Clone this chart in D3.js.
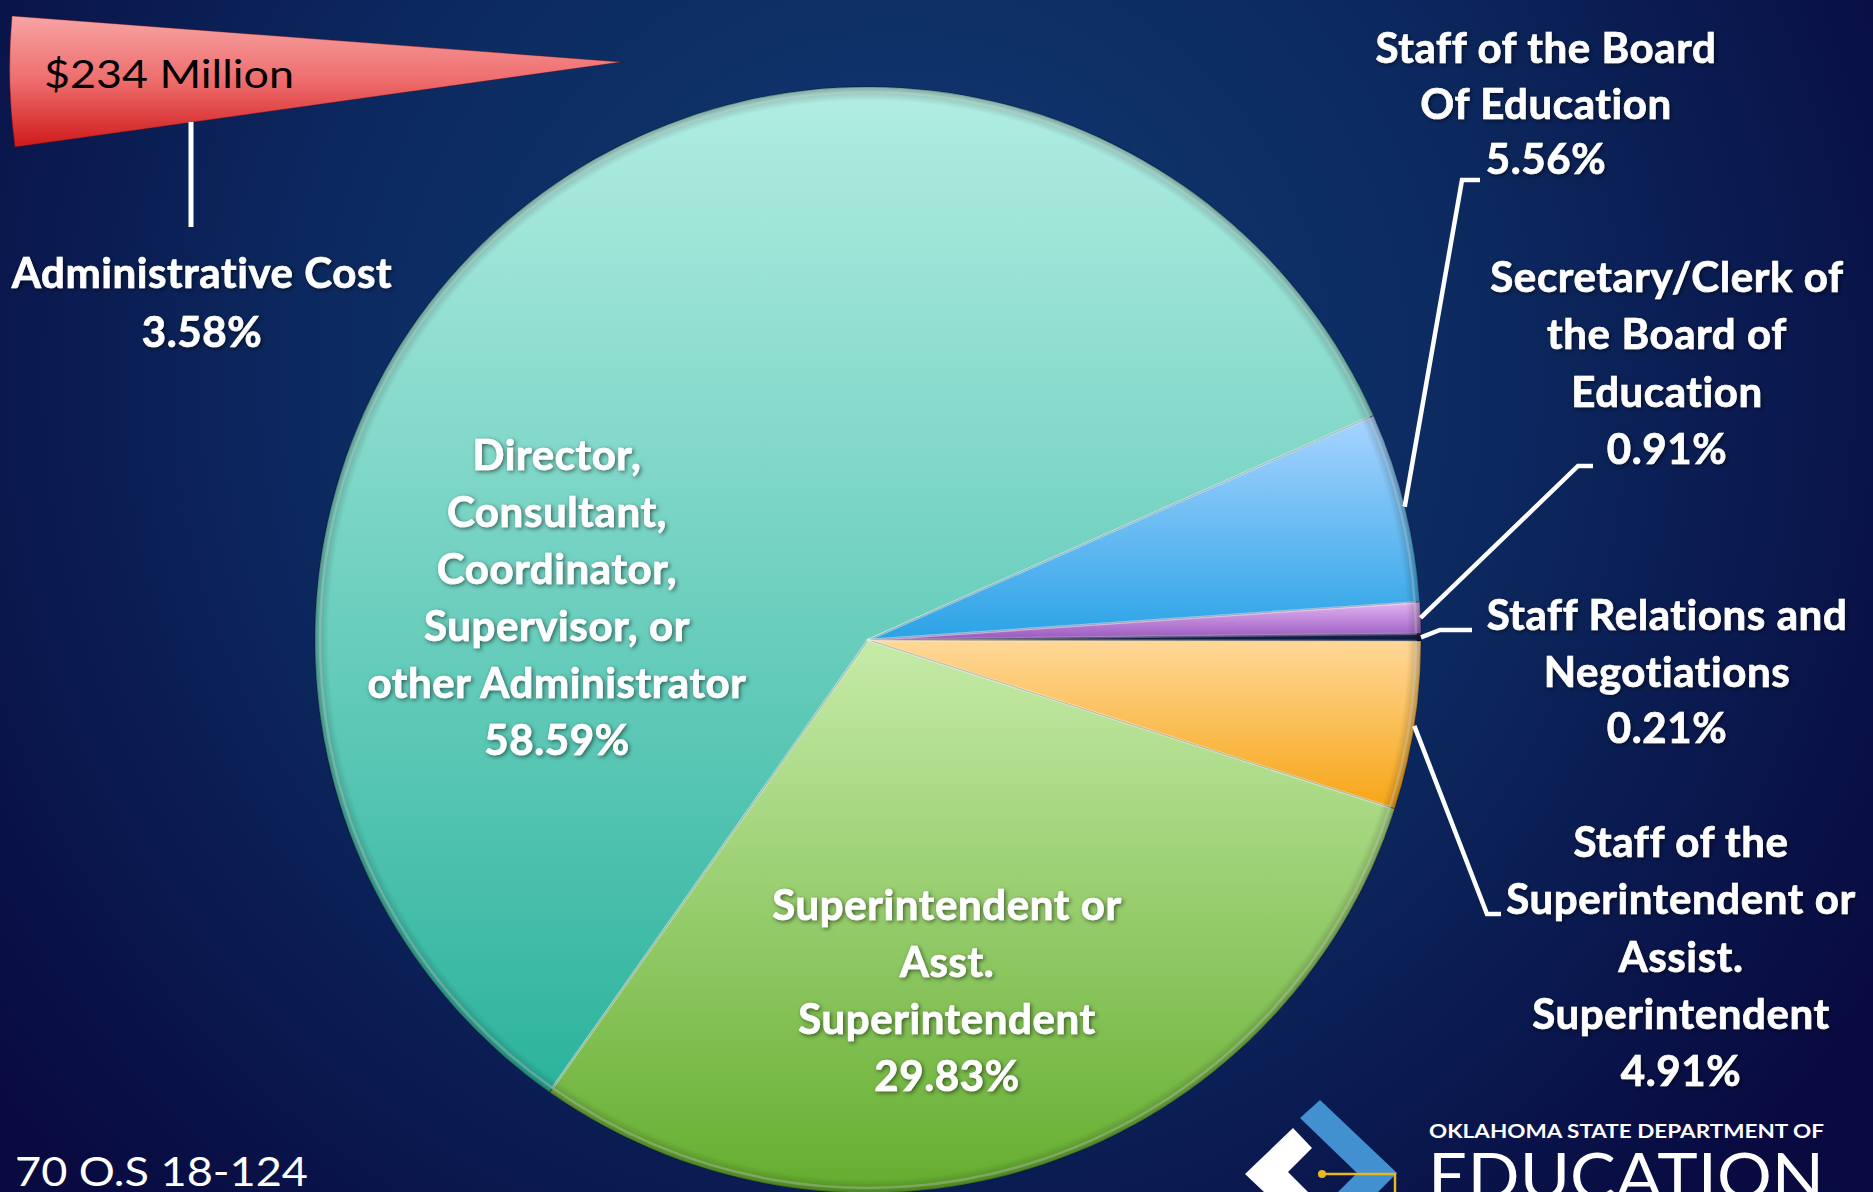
<!DOCTYPE html>
<html>
<head>
<meta charset="utf-8">
<script src="https://cdn.jsdelivr.net/npm/d3@7"></script>
<style>
  html, body { margin: 0; padding: 0; overflow: hidden; background: #0b1e54; }
  text { font-family: Lato, "Noto Sans", sans-serif; }
</style>
</head>
<body>
<svg id="chart"></svg>
<script>
// slices, clockwise from the blue one
const categories = [
  "Staff of the Board Of Education",
  "Secretary/Clerk of the Board of Education",
  "Staff Relations and Negotiations",
  "Staff of the Superintendent or Assist. Superintendent",
  "Superintendent or Asst. Superintendent",
  "Director, Consultant, Coordinator, Supervisor, or other Administrator"
];
const shares = [5.56, 0.91, 0.21, 4.91, 29.83, 58.59];
const labelLines = [
  ["Staff of the Board", "Of Education"],
  ["Secretary/Clerk of", "the Board of", "Education"],
  ["Staff Relations and", "Negotiations"],
  ["Staff of the", "Superintendent or", "Assist.", "Superintendent"],
  ["Superintendent or", "Asst.", "Superintendent"],
  ["Director,", "Consultant,", "Coordinator,", "Supervisor, or", "other Administrator"]
];
const sliceColors = [
  ["#a9d4ff", "#2aa3e6"],
  ["#e4b4f4", "#9656bc"],
  ["#16244f", "#0c1840"],
  ["#ffd898", "#f7a516"],
  ["#c6eba8", "#64ad2e"],
  ["#b2ede2", "#2cb39d"]
];
const totalCost = "$234 Million";
const adminLabel = "Administrative Cost";
const adminShare = 3.58;
const footnote = "70 O.S 18-124";

const W = 1873, H = 1192;
const cx = 868, cy = 640, R = 553;
const fmt = d => d3.format(".2f")(d) + "%";

// where each label sits (first baseline) and the elbow of its leader line
const labelLayout = [
  { x: 1546, y: 63, gap: 55.5, leader: [[1462, 180], [1480, 180]] },
  { x: 1667, y: 292, gap: 57.3, leader: [[1578, 466], [1593, 466]] },
  { x: 1667, y: 630, gap: 56.7, leader: [[1440, 630], [1472, 630]] },
  { x: 1681, y: 857, gap: 57.3, leader: [[1487, 914], [1501, 914]] },
  { x: 947, y: 920, gap: 57 },
  { x: 557, y: 470, gap: 57 }
];

const svg = d3.select("#chart").attr("width", W).attr("height", H);
const defs = svg.append("defs");

const bg = defs.append("radialGradient").attr("id", "bg")
  .attr("gradientUnits", "userSpaceOnUse")
  .attr("cx", 900).attr("cy", 380).attr("r", 1150);
bg.append("stop").attr("offset", 0).attr("stop-color", "#0f3a72");
bg.append("stop").attr("offset", 0.5).attr("stop-color", "#0c2a60");
bg.append("stop").attr("offset", 1).attr("stop-color", "#080a40");

sliceColors.forEach(function(c, i) {
  const g = defs.append("linearGradient").attr("id", "slice" + i)
    .attr("x1", 0).attr("y1", 0).attr("x2", 0).attr("y2", 1);
  g.append("stop").attr("offset", 0).attr("stop-color", c[0]);
  g.append("stop").attr("offset", 1).attr("stop-color", c[1]);
});

const rim = defs.append("radialGradient").attr("id", "rim")
  .attr("gradientUnits", "userSpaceOnUse")
  .attr("cx", 0).attr("cy", 0).attr("r", R);
rim.append("stop").attr("offset", 0.975).attr("stop-color", "#000").attr("stop-opacity", 0);
rim.append("stop").attr("offset", 1).attr("stop-color", "#000").attr("stop-opacity", 0.25);

const cone = defs.append("linearGradient").attr("id", "cone")
  .attr("x1", 0).attr("y1", 0).attr("x2", 0).attr("y2", 1);
cone.append("stop").attr("offset", 0).attr("stop-color", "#f7a4a4");
cone.append("stop").attr("offset", 0.5).attr("stop-color", "#ee6c6c");
cone.append("stop").attr("offset", 1).attr("stop-color", "#cf1a1a");

defs.append("filter").attr("id", "shadow")
  .attr("x", "-10%").attr("y", "-30%").attr("width", "120%").attr("height", "160%")
  .append("feDropShadow")
  .attr("dx", 1.5).attr("dy", 1.5).attr("stdDeviation", 2)
  .attr("flood-color", "#000").attr("flood-opacity", 0.55);

svg.append("rect").attr("width", W).attr("height", H).attr("fill", "url(#bg)");

// pie
const pie = d3.pie().sort(null).value(d => d)
  .startAngle(66.05 * Math.PI / 180)
  .endAngle((66.05 + 360) * Math.PI / 180);
const arcs = pie(shares);
const arc = d3.arc().innerRadius(0).outerRadius(R);
const bevel = d3.arc().innerRadius(0).outerRadius(R - 5);
const edge = d3.arc().innerRadius(R).outerRadius(R);

const g = svg.append("g").attr("transform", "translate(" + cx + "," + cy + ")");

g.selectAll("path.slice")
  .data(arcs)
  .enter().append("path")
  .attr("class", "slice")
  .attr("d", arc)
  .attr("fill", (d, i) => "url(#slice" + i + ")")
  .attr("stroke", "rgba(0,0,0,0.22)")
  .attr("stroke-width", 1.5);

g.selectAll("path.bevel")
  .data(arcs)
  .enter().append("path")
  .attr("class", "bevel")
  .attr("d", bevel)
  .attr("fill", "none")
  .attr("stroke", (d, i) => i === 2 ? "none" : "rgba(255,255,255,0.3)")
  .attr("stroke-width", 2.5)
  .attr("stroke-linejoin", "round");

g.append("circle").attr("r", R).attr("fill", "url(#rim)");

// leader lines
const leaders = svg.append("g")
  .attr("fill", "none").attr("stroke", "#fff").attr("stroke-width", 4.5);
labelLayout.forEach(function(l, i) {
  if (!l.leader) return;
  const p = edge.centroid(arcs[i]);
  leaders.append("path")
    .attr("d", d3.line()([[cx + p[0], cy + p[1]]].concat(l.leader)));
});

// labels
function label(x, y, gap, lines) {
  svg.append("text")
    .attr("text-anchor", "middle")
    .attr("fill", "#fff")
    .attr("stroke", "#fff")
    .attr("stroke-width", 0.7)
    .attr("font-weight", "bold")
    .attr("font-size", 42)
    .attr("letter-spacing", 0.6)
    .attr("filter", "url(#shadow)")
    .selectAll("tspan")
    .data(lines)
    .enter().append("tspan")
    .attr("x", x)
    .attr("y", (d, j) => y + j * gap)
    .text(d => d);
}
labelLayout.forEach(function(l, i) {
  label(l.x, l.y, l.gap, labelLines[i].concat([fmt(shares[i])]));
});

// total cost cone + administrative cost label
svg.append("path")
  .attr("d", "M12,16 Q6,82 15,147 L621,62 Z")
  .attr("fill", "url(#cone)")
  .attr("stroke", "rgba(120,0,0,0.35)")
  .attr("stroke-width", 1);
svg.append("text")
  .attr("x", 44).attr("y", 88)
  .attr("font-size", 38)
  .attr("fill", "#000")
  .attr("textLength", 250)
  .attr("lengthAdjust", "spacingAndGlyphs")
  .text(totalCost);
svg.append("line")
  .attr("x1", 191).attr("y1", 122).attr("x2", 191).attr("y2", 227)
  .attr("stroke", "#fff").attr("stroke-width", 5);
label(202, 288, 59, [adminLabel, fmt(adminShare)]);

svg.append("text")
  .attr("x", 15).attr("y", 1186)
  .attr("font-size", 41).attr("fill", "#fff")
  .attr("textLength", 293)
  .attr("lengthAdjust", "spacingAndGlyphs")
  .text(footnote);

// logo
const logo = svg.append("g");
logo.append("polygon")
  .attr("points", "1300,1118 1320,1100 1397,1173 1378,1192 1338,1192 1357,1173")
  .attr("fill", "#4390d0");
logo.append("polygon")
  .attr("points", "1288,1172 1308,1192 1290,1192 1278,1180")
  .attr("fill", "#0a1e40");
logo.append("polygon")
  .attr("points", "1293,1128 1312,1148 1288,1172 1308,1192 1264,1192 1245,1174")
  .attr("fill", "#fff");
logo.append("path")
  .attr("d", "M1322,1174 L1395,1174 L1395,1192")
  .attr("fill", "none").attr("stroke", "#e8b820").attr("stroke-width", 2.5);
logo.append("circle").attr("cx", 1322).attr("cy", 1174).attr("r", 4).attr("fill", "#e8b820");
logo.append("text")
  .attr("x", 1429).attr("y", 1138)
  .attr("font-size", 19).attr("font-weight", "bold").attr("fill", "#fff")
  .attr("textLength", 395).attr("lengthAdjust", "spacingAndGlyphs")
  .text("OKLAHOMA STATE DEPARTMENT OF");
logo.append("text")
  .attr("x", 1428).attr("y", 1199)
  .attr("font-size", 63).attr("font-weight", 400).attr("fill", "#fff")
  .attr("textLength", 396).attr("lengthAdjust", "spacingAndGlyphs")
  .text("EDUCATION");
</script>
</body>
</html>
